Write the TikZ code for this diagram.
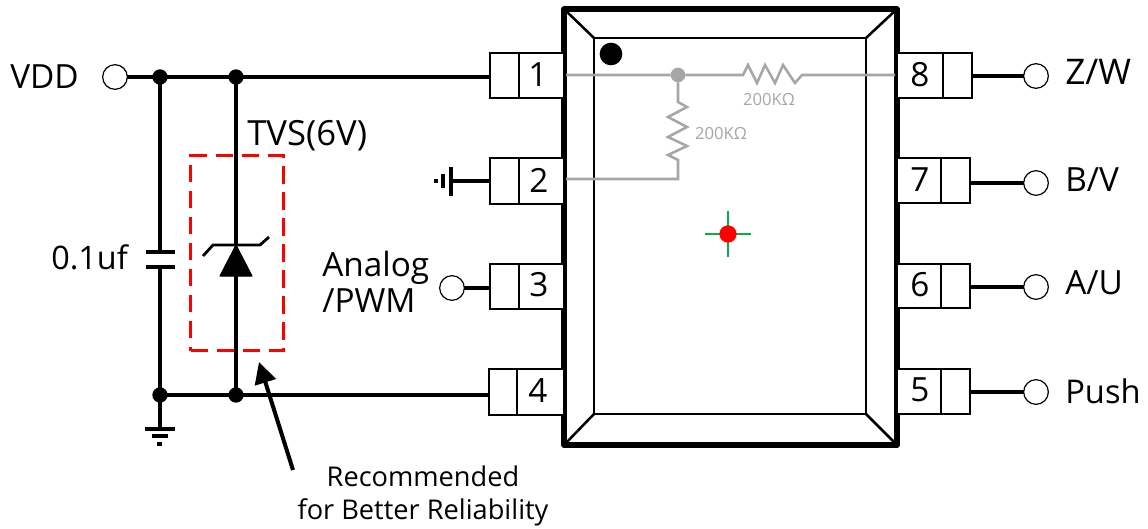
\documentclass[tikz,border=0pt]{standalone}
\usepackage{fontspec}
\setmainfont{Open Sans}
\usetikzlibrary{arrows.meta}
\definecolor{chipgray}{HTML}{A6A6A6}
\definecolor{mkgreen}{HTML}{00B050}
\tikzset{
  wire/.style={line width=3.2pt,black},
  slimwire/.style={line width=2.5pt,black},
  graywire/.style={line width=1.9pt,draw=chipgray,line join=miter},
  pinbox/.style={draw=black,line width=2.1pt,fill=white,outer sep=0pt,inner sep=0pt},
  pinnum/.style={font=\fontsize{25}{25}\selectfont,inner sep=0pt},
  term/.style={circle,draw=black,line width=0.9pt,fill=white,minimum size=18.5pt,inner sep=0pt,outer sep=0pt},
  junction/.style={circle,fill=black,minimum size=11.5pt,inner sep=0pt,outer sep=0pt},
  lab/.style={font=\fontsize{25}{27.5}\selectfont,inner sep=0pt},
  small/.style={font=\fontsize{20.4}{25}\selectfont,inner sep=0pt,align=center},
  res/.style={font=\fontsize{12.5}{13}\selectfont,text=chipgray,inner sep=0pt},
  gnd/.style={line width=2.4pt,black}
}
\newcommand{\pinL}[5]{% name, left, divider, top, bottom
  \node[pinbox,anchor=north west,minimum width={(564-#2)*0.75pt},minimum height={(#5-#4)*0.75pt}] (#1) at (#2,#4) {};
  \draw[line width=2.1pt] (#3,#4) -- (#3,#5);}
\newcommand{\pinR}[5]{% name, right, divider, top, bottom
  \node[pinbox,anchor=north east,minimum width={(#2-897)*0.75pt},minimum height={(#5-#4)*0.75pt}] (#1) at (#2,#4) {};
  \draw[line width=2.1pt] (#3,#4) -- (#3,#5);}
\begin{document}
\begin{tikzpicture}[x=0.75pt,y=-0.75pt]
\useasboundingbox (0,0) rectangle (1148,528);
% chip
\draw[line width=1.9pt] (564,9) -- (594,38) (897,9) -- (866,38) (564,445) -- (594,414) (897,445) -- (866,414);
\draw[line width=1.9pt] (594,38) rectangle (866,414);
\draw[line width=4pt,line join=round] (564,9) rectangle (897,445);
% pin boxes
\pinL{p1}{490}{519}{53}{98}
\pinL{p2}{490}{519}{158}{204}
\pinL{p3}{490}{519}{264}{309}
\pinL{p4}{489}{517}{369}{415}
\pinR{p8}{972}{943}{53}{98}
\pinR{p7}{970}{941}{158}{203}
\pinR{p6}{970}{941}{264}{308}
\pinR{p5}{970}{941}{369}{414}
\node[pinnum] (n1) at (538,75) {1};
\node[pinnum] (n2) at (539,180) {2};
\node[pinnum] (n3) at (539,285) {3};
\node[pinnum] (n4) at (538,391) {4};
\node[pinnum] (n8) at (920,75) {8};
\node[pinnum] (n7) at (920,180) {7};
\node[pinnum] (n6) at (920,285) {6};
\node[pinnum] (n5) at (920,390) {5};
% internal gray
\node[circle,fill=chipgray,minimum size=11pt,inner sep=0pt,outer sep=0pt] (gj) at (678,75) {};
\coordinate (g1) at (566,75);
\coordinate (g8) at (895,75);
\coordinate (g2) at (566,179);
\draw[graywire] (g1) -- (gj) -- (743,75) -- (748,65) -- (757,83) -- (765,65) -- (775,83) -- (783,65) -- (795,83) -- (802,75) -- (g8);
\draw[graywire] (gj) -- (678,102) -- (687,107) -- (668,117) -- (687,127) -- (668,137) -- (687,146) -- (668,155) -- (678,160) -- (678,179) -- (g2);
\node[res] (r1) at (769,100) {200KΩ};
\node[res] (r2) at (721,134) {200KΩ};
\node[circle,fill=black,minimum size=17pt,inner sep=0pt] (dot) at (611,54) {};
% cross
\draw[mkgreen,line width=1.8pt] (705,234) -- (751,234) (728,211) -- (728,257);
\node[circle,fill=red,minimum size=13pt,inner sep=0pt] (ctr) at (728,234) {};
% terminals
\node[term] (tv) at (115,77) {};
\node[term] (ta) at (452,288) {};
\node[term] (tz) at (1036,76) {};
\node[term] (tb) at (1036,183) {};
\node[term] (tu) at (1036,287) {};
\node[term] (tp) at (1036,392) {};
\node[junction] (j1) at (160,77) {};
\node[junction] (j2) at (236,77) {};
\node[junction] (j3) at (160,395) {};
\node[junction] (j4) at (236,395) {};
% wires
\draw[wire] (tv.east) -- (j1.center) -- (j2.center) -- (p1.west |- j2);
\draw[wire] (j3.center) -- (j4.center) -- (p4.west |- j4);
\draw[wire] (tz.west) -- (p8.east |- tz);
\draw[slimwire] (tb.west) -- (p7.east |- tb);
\draw[slimwire] (tu.west) -- (p6.east |- tu);
\draw[slimwire] (tp.west) -- (p5.east |- tp);
\draw[wire] (ta.east) -- (p3.west |- ta);
% cap
\coordinate (c1) at (160,252); \coordinate (c2) at (160,267);
\draw[wire] (j1.center) -- (c1) (c2) -- (j3.center);
\draw[wire] (146,252) -- (175,252) (146,267) -- (175,267);
% tvs
\coordinate (dtop) at (236,245); \coordinate (dbot) at (236,275);
\draw[wire] (j2.center) -- (dtop) (dbot) -- (j4.center);
\fill[line join=round,draw=black,line width=0.8pt] (dtop) -- (252,276) -- (220,276) -- cycle;
\draw[line width=2.1pt] (203,256) -- (213,245) -- (260,245) -- (269,237);
% red box
\node[draw=red,line width=2.3pt,dash pattern=on 13pt off 6.5pt,minimum width=69.5pt,minimum height=146.5pt,inner sep=0pt,anchor=north west] (rb) at (189,154) {};
% ground VSS
\coordinate (gb) at (160,429);
\draw[wire] (j3.center) -- (gb);
\draw[gnd] (145,429) -- (175,429) (152,436) -- (168,436) (157,444) -- (162,444);
% ground pin 2
\coordinate (gp) at (451,181);
\draw[slimwire] (p2.west |- gp) -- (gp);
\draw[gnd] (451,167) -- (451,196) (443,174) -- (443,188) (436,179) -- (436,183);
% arrow
\coordinate (as) at (293,470); \coordinate (ae) at (259,362);
\draw[line width=3pt,-{Triangle[length=16pt,width=16pt]}] (as) -- (ae);
% labels
\node[lab,anchor=west] (lv) at (10,77) {VDD};
\node[lab,anchor=west,font=\fontsize{26}{30}\selectfont] (lt) at (247,136) {TVS(6V)};
\node[lab,anchor=west,font=\fontsize{24.3}{30}\selectfont] (lc) at (51,257) {0.1uf};
\node[lab,align=left,anchor=west] (la) at (322,282) {Analog\\/PWM};
\node[lab,anchor=west,font=\fontsize{26.5}{30}\selectfont] (lz) at (1065,72) {Z/W};
\node[lab,anchor=west] (lb) at (1065,180) {B/V};
\node[lab,anchor=west] (lu) at (1065,283) {A/U};
\node[lab,anchor=west,font=\fontsize{24.5}{30}\selectfont] (lp) at (1065,391) {Push};
\node[small] (rec) at (423,496) {Recommended\\for Better Reliability};
\end{tikzpicture}
\end{document}
